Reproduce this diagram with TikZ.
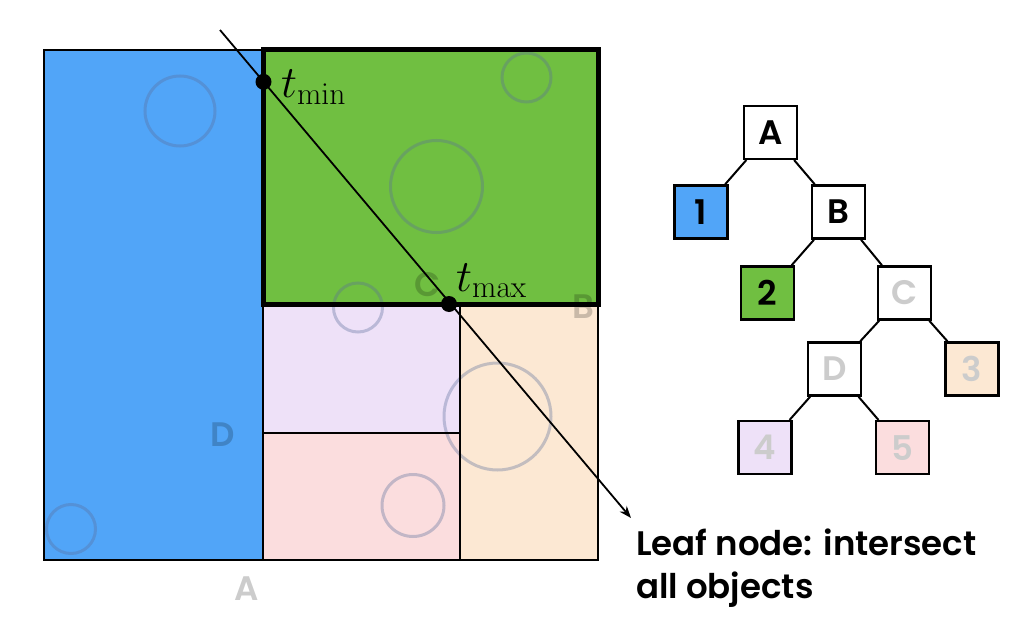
\RequirePackage{fix-cm}
\documentclass[tikz,border=0pt]{standalone}
\usepackage[no-math]{fontspec}
\setmainfont{Poppins}[UprightFont={* SemiBold}]
\usetikzlibrary{arrows.meta}
\definecolor{cblue}{HTML}{51A5F8}
\definecolor{cgreen}{HTML}{70BF41}
\definecolor{cpurple}{HTML}{EEE1F8}
\definecolor{cpink}{HTML}{FBDDDE}
\definecolor{cpeach}{HTML}{FCE8D3}
\definecolor{cgrayt}{HTML}{CCCCCC}
\definecolor{ccirc}{HTML}{5A6E9A}
\begin{document}
\begin{tikzpicture}[x=1pt,y=-1pt,
  circ/.style={draw=ccirc,draw opacity=0.35,line width=3pt},
  reglabel/.style={text=black,text opacity=0.2,font=\fontsize{34}{36}\selectfont,inner sep=0pt},
  grid/.style={draw=black,line width=2pt},
  tnode/.style={draw=black,line width=2.5pt,minimum size=53pt,inner sep=0pt,font=\fontsize{34}{36}\selectfont,fill=white},
  tedge/.style={draw=black,line width=2pt},
  dot/.style={circle,fill=black,minimum size=16pt,inner sep=0pt},
  mathlbl/.style={inner sep=0pt,font=\fontsize{45}{47}\selectfont},
  leaf/.style={inner sep=0pt,anchor=base west,font=\fontsize{34}{43}\selectfont}]
\useasboundingbox (0,0) rectangle (1034,634);
% regions
\fill[cblue] (44,50) rectangle (263,560);
\fill[cgreen] (263,50) rectangle (598,304);
\fill[cpurple] (263,304) rectangle (460,433);
\fill[cpink] (263,433) rectangle (460,560);
\fill[cpeach] (460,304) rectangle (598,560);
% objects
\draw[circ] (180,111) circle (35);
\draw[circ] (71,529) circle (24.5);
\draw[circ] (526.5,77.5) circle (24.5);
\draw[circ] (436.5,186.5) circle (46);
\draw[circ] (358,307.5) circle (24.5);
\draw[circ] (497.5,416.5) circle (53.5);
\draw[circ] (413,505.5) circle (31);
% region labels
\node[reglabel] (labD) at (222.5,434.5) {D};
\node[reglabel] (labC) at (428,285) {C};
\node[reglabel] (labB) at (583,306.5) {B};
\node[reglabel] (labA) at (247,588.5) {A};
% partition lines
\draw[grid] (44,50) rectangle (598,560);
\draw[grid] (263,50) -- (263,560);
\draw[grid] (460,304) -- (460,560);
\draw[grid] (263,433) -- (460,433);
\draw[draw=black,line width=5pt] (263,50) rectangle (598,304);
% ray
\coordinate (raystart) at (220,30);
\coordinate (rayend) at (631,518);
\draw[line width=1.8pt,-{Stealth[length=12pt,width=9pt]}] (raystart) -- (rayend);
\node[dot] (tmin) at (263.5,81.8) {};
\node[dot] (tmax) at (449,304) {};
\node[mathlbl,anchor=base west] (tminlbl) at (281,98) {$t_{\min}$};
\node[mathlbl,anchor=base west] (tmaxlbl) at (456,291) {$t_{\max}$};
% tree
\node[tnode] (A) at (770.5,132.3) {A};
\node[tnode,fill=cblue] (n1) at (701,212) {1};
\node[tnode] (B) at (838.3,212) {B};
\node[tnode,fill=cgreen] (n2) at (767.3,293) {2};
\node[tnode,text=cgrayt] (C) at (904.7,293) {C};
\node[tnode,text=cgrayt] (D) at (834.7,369) {D};
\node[tnode,fill=cpeach,text=cgrayt] (n3) at (972,369) {3};
\node[tnode,fill=cpurple,text=cgrayt] (n4) at (765,447.7) {4};
\node[tnode,fill=cpink,text=cgrayt] (n5) at (902.3,447.7) {5};
\draw[tedge] (A) -- (n1);
\draw[tedge] (A) -- (B);
\draw[tedge] (B) -- (n2);
\draw[tedge] (B) -- (C);
\draw[tedge] (C) -- (D);
\draw[tedge] (C) -- (n3);
\draw[tedge] (D) -- (n4);
\draw[tedge] (D) -- (n5);
% caption
\node[leaf] (leaf1) at (636,555) {Leaf node: intersect};
\node[leaf] (leaf2) at (636,598) {all objects};
\end{tikzpicture}
\end{document}
